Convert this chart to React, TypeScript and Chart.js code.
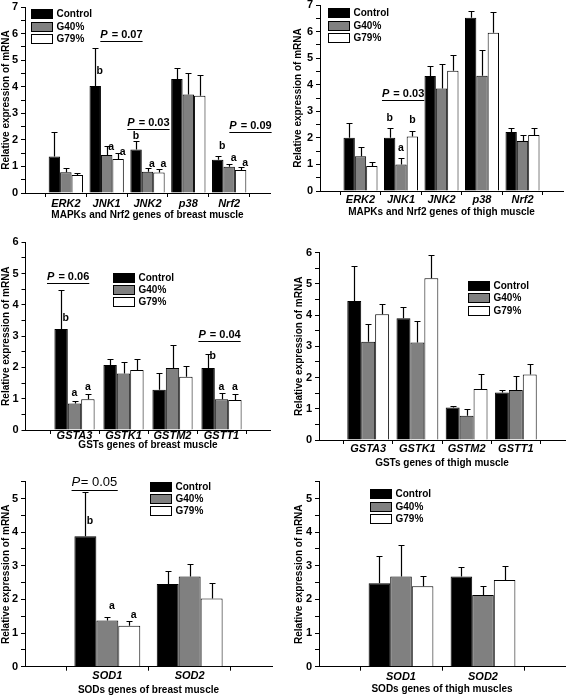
import React, { useEffect, useRef } from 'react';
import { Chart, registerables } from 'chart.js';

Chart.register(...registerables);

const FONT = '"Liberation Sans", Arial, Helvetica, sans-serif';
Chart.defaults.font.family = FONT;
Chart.defaults.color = '#000';

const seriesNames = ['Control', 'G40%', 'G79%'];
const seriesFills = ['#000000', '#808080', '#ffffff'];
const yAxisTitle = 'Relative expression of mRNA';

// ---- Panel 1: MAPKs and Nrf2, breast muscle
const mapkGenes = ['ERK2', 'JNK1', 'JNK2', 'p38', 'Nrf2'];
const breastMapkControl = [1.37, 4.03, 1.64, 4.29, 1.25];
const breastMapkControlSE = [0.94, 1.42, 0.31, 0.43, 0.13];
const breastMapkG40 = [0.78, 1.43, 0.80, 3.71, 0.99];
const breastMapkG40SE = [0.15, 0.35, 0.14, 0.79, 0.09];
const breastMapkG79 = [0.68, 1.28, 0.77, 3.66, 0.87];
const breastMapkG79SE = [0.09, 0.23, 0.13, 0.78, 0.12];
const breastMapkTicks = [0, 1, 2, 3, 4, 5, 6, 7];
// [gene, series, letter, height, placement]
const breastMapkLetters: [string, number, string, number, string][] = [
  ['JNK1', 0, 'b', 4.57, 'r'], ['JNK1', 1, 'a', 1.74, 'r'], ['JNK1', 2, 'a', 1.55, 'r'],
  ['JNK2', 0, 'b', 2.14, 'c'], ['JNK2', 1, 'a', 1.1, 'r'], ['JNK2', 2, 'a', 1.1, 'r'],
  ['Nrf2', 0, 'b', 1.75, 'r'], ['Nrf2', 1, 'a', 1.31, 'r'], ['Nrf2', 2, 'a', 1.12, 'r'],
];
// [p value, category position, height]
const breastMapkP: [string, number, number][] = [
  ['0.07', 2.35, 5.96], ['0.03', 3.01, 2.64], ['0.09', 5.51, 2.53],
];

// ---- Panel 2: MAPKs and Nrf2, thigh muscle
const thighMapkControl = [2.0, 2.0, 4.33, 6.52, 2.22];
const thighMapkControlSE = [0.57, 0.36, 0.39, 0.26, 0.16];
const thighMapkG40 = [1.31, 1.0, 3.86, 4.34, 1.88];
const thighMapkG40SE = [0.35, 0.23, 0.91, 0.97, 0.23];
const thighMapkG79 = [0.94, 2.05, 4.53, 5.96, 2.11];
const thighMapkG79SE = [0.16, 0.21, 0.59, 0.79, 0.27];
const thighMapkTicks = [0, 1, 2, 3, 4, 5, 6, 7];
const thighMapkLetters: [string, number, string, number, string][] = [
  ['JNK1', 0, 'b', 2.74, 'c'], ['JNK1', 1, 'a', 1.61, 'c'], ['JNK1', 2, 'b', 2.67, 'c'],
];
const thighMapkP: [string, number, number][] = [['0.03', 2.04, 3.64]];

// ---- Panel 3: GSTs, breast muscle
const gstGenes = ['GSTA3', 'GSTK1', 'GSTM2', 'GSTT1'];
const breastGstControl = [3.23, 2.08, 1.29, 1.98];
const breastGstControlSE = [1.25, 0.19, 0.54, 0.44];
const breastGstG40 = [0.85, 1.81, 1.98, 0.98];
const breastGstG40SE = [0.08, 0.35, 0.75, 0.19];
const breastGstG79 = [0.98, 1.92, 1.70, 0.96];
const breastGstG79SE = [0.16, 0.35, 0.35, 0.18];
const breastGstTicks = [0, 1, 2, 3, 4, 5, 6];
const breastGstLetters: [string, number, string, number, string][] = [
  ['GSTA3', 0, 'b', 3.57, 'r'], ['GSTA3', 1, 'a', 1.19, 'c'], ['GSTA3', 2, 'a', 1.38, 'c'],
  ['GSTT1', 0, 'b', 2.36, 'r'], ['GSTT1', 1, 'a', 1.38, 'c'], ['GSTT1', 2, 'a', 1.38, 'c'],
];
const breastGstP: [string, number, number][] = [['0.06', 0.86, 4.9], ['0.04', 3.95, 3.03]];

// ---- Panel 4: GSTs, thigh muscle
const thighGstControl = [4.45, 3.9, 1.04, 1.52];
const thighGstControlSE = [1.13, 0.35, 0.06, 0.08];
const thighGstG40 = [3.15, 3.12, 0.78, 1.6];
const thighGstG40SE = [0.55, 0.7, 0.21, 0.45];
const thighGstG79 = [4.03, 5.18, 1.63, 2.1];
const thighGstG79SE = [0.32, 0.74, 0.47, 0.32];
const thighGstTicks = [0, 1, 2, 3, 4, 5, 6];

// ---- Panel 5: SODs, breast muscle
const sodGenes = ['SOD1', 'SOD2'];
const breastSodControl = [3.88, 2.46];
const breastSodControlSE = [1.32, 0.39];
const breastSodG40 = [1.37, 2.68];
const breastSodG40SE = [0.12, 0.38];
const breastSodG79 = [1.22, 2.03];
const breastSodG79SE = [0.15, 0.47];
const breastSodTicks = [0, 1, 2, 3, 4, 5];
const breastSodLetters: [string, number, string, number, string][] = [
  ['SOD1', 0, 'b', 4.33, 'r'], ['SOD1', 1, 'a', 1.79, 'r'], ['SOD1', 2, 'a', 1.54, 'r'],
];
const breastSodP: [string, number, number][] = [['0.05', 0.84, 5.47]];

// ---- Panel 6: SODs, thigh muscle
const thighSodControl = [2.48, 2.68];
const thighSodControlSE = [0.82, 0.27];
const thighSodG40 = [2.68, 2.13];
const thighSodG40SE = [0.95, 0.27];
const thighSodG79 = [2.39, 2.58];
const thighSodG79SE = [0.31, 0.42];
const thighSodTicks = [0, 1, 2, 3, 4, 5];

type PanelCfg = {
  box: { x: number; y: number; w: number; h: number };
  pad: { left: number; top: number; right: number; bottom: number };
  yWidth: number;
  xHeight: number;
  yMax: number;
  majorTicks: number[];
  genes: string[];
  values: number[][];
  se: number[][];
  xTitle: string;
  catPct: number;
  labelPad: number;
  legend: { dx: number; dy: number };
  letters: [string, number, string, number, string][];
  pvals: [string, number, number][];
  pStyle: 'bold' | 'plain';
};

const panels: PanelCfg[] = [
  {
    box: { x: 0, y: 0, w: 283, h: 228 },
    pad: { left: 0, top: 7, right: 13, bottom: 7 },
    yWidth: 25, xHeight: 28, yMax: 7, majorTicks: breastMapkTicks,
    genes: mapkGenes,
    values: [breastMapkControl, breastMapkG40, breastMapkG79],
    se: [breastMapkControlSE, breastMapkG40SE, breastMapkG79SE],
    xTitle: 'MAPKs and Nrf2 genes of breast muscle',
    catPct: 0.84, labelPad: 0.3, legend: { dx: 6, dy: 2.3 },
    letters: breastMapkLetters, pvals: breastMapkP, pStyle: 'bold',
  },
  {
    box: { x: 283, y: 0, w: 284, h: 228 },
    pad: { left: 9.5, top: 5, right: 4, bottom: 10 },
    yWidth: 27.5, xHeight: 27, yMax: 7, majorTicks: thighMapkTicks,
    genes: mapkGenes,
    values: [thighMapkControl, thighMapkG40, thighMapkG79],
    se: [thighMapkControlSE, thighMapkG40SE, thighMapkG79SE],
    xTitle: 'MAPKs and Nrf2 genes of thigh muscle',
    catPct: 0.84, labelPad: -1.7, legend: { dx: 8, dy: 3.3 },
    letters: thighMapkLetters, pvals: thighMapkP, pStyle: 'bold',
  },
  {
    box: { x: 0, y: 228, w: 283, h: 232 },
    pad: { left: 0, top: 14.3, right: 12.5, bottom: 8.7 },
    yWidth: 25.5, xHeight: 21.3, yMax: 6, majorTicks: breastGstTicks,
    genes: gstGenes,
    values: [breastGstControl, breastGstG40, breastGstG79],
    se: [breastGstControlSE, breastGstG40SE, breastGstG79SE],
    xTitle: 'GSTs genes of breast muscle',
    catPct: 0.82, labelPad: -4.8, legend: { dx: 87, dy: 30.4 },
    letters: breastGstLetters, pvals: breastGstP, pStyle: 'bold',
  },
  {
    box: { x: 283, y: 228, w: 284, h: 242 },
    pad: { left: 10, top: 24.7, right: 2, bottom: 1 },
    yWidth: 26, xHeight: 29, yMax: 6, majorTicks: thighGstTicks,
    genes: gstGenes,
    values: [thighGstControl, thighGstG40, thighGstG79],
    se: [thighGstControlSE, thighGstG40SE, thighGstG79SE],
    xTitle: 'GSTs genes of thigh muscle',
    catPct: 0.85, labelPad: -1.7, legend: { dx: 148.7, dy: 28.3 },
    letters: [], pvals: [], pStyle: 'bold',
  },
  {
    box: { x: 0, y: 460, w: 283, h: 236 },
    pad: { left: 0, top: 21.7, right: 11, bottom: 0 },
    yWidth: 25, xHeight: 29.3, yMax: 5.5, majorTicks: breastSodTicks,
    genes: sodGenes,
    values: [breastSodControl, breastSodG40, breastSodG79],
    se: [breastSodControlSE, breastSodG40SE, breastSodG79SE],
    xTitle: 'SODs genes of breast muscle',
    catPct: 0.8, labelPad: -1, legend: { dx: 125, dy: 0 },
    letters: breastSodLetters, pvals: breastSodP, pStyle: 'plain',
  },
  {
    box: { x: 283, y: 470, w: 284, h: 226 },
    pad: { left: 10, top: 11.7, right: 2, bottom: 0.7 },
    yWidth: 26, xHeight: 28.6, yMax: 5.5, majorTicks: thighSodTicks,
    genes: sodGenes,
    values: [thighSodControl, thighSodG40, thighSodG79],
    se: [thighSodControlSE, thighSodG40SE, thighSodG79SE],
    xTitle: 'SODs genes of thigh muscles',
    catPct: 0.79, labelPad: -0.7, legend: { dx: 51, dy: 7.6 },
    letters: [], pvals: [], pStyle: 'bold',
  },
];

function makeDecor(p: PanelCfg) {
  return {
    id: 'decor',
    afterDatasetsDraw(chart: any) {
      const ctx = chart.ctx;
      const ys = chart.scales.y;
      ctx.save();
      ctx.strokeStyle = '#000';
      ctx.lineWidth = 1.2;
      p.values.forEach((vals, si) => {
        const meta = chart.getDatasetMeta(si);
        vals.forEach((v, ci) => {
          const e = p.se[si][ci];
          const bar = meta.data[ci + 1];
          if (!bar) return;
          const x = Math.round(bar.x) + 0.5;
          const y0 = ys.getPixelForValue(v);
          const y1 = Math.round(ys.getPixelForValue(v + e)) + 0.5;
          ctx.beginPath();
          ctx.moveTo(x, y0);
          ctx.lineTo(x, y1);
          ctx.moveTo(x - 3, y1);
          ctx.lineTo(x + 3, y1);
          ctx.stroke();
        });
      });
      ctx.restore();
    },
    afterDraw(chart: any) {
      const ctx = chart.ctx;
      const xs = chart.scales.x;
      const ys = chart.scales.y;
      const a = chart.chartArea;
      ctx.save();
      // legend
      const lx = a.left + p.legend.dx;
      const ly = a.top + p.legend.dy;
      chart.data.datasets.forEach((ds: any, i: number) => {
        const y = Math.round(ly + i * 12.35);
        const x = Math.round(lx);
        ctx.fillStyle = ds.backgroundColor;
        ctx.fillRect(x, y, 22, 10);
        ctx.strokeStyle = '#000';
        ctx.lineWidth = 1;
        ctx.strokeRect(x + 0.5, y + 0.5, 21, 9);
        ctx.fillStyle = '#000';
        ctx.font = `bold 10px ${FONT}`;
        ctx.textAlign = 'left';
        ctx.textBaseline = 'middle';
        ctx.fillText(ds.label, x + 25.5, y + 5.5);
      });
      // significance letters
      ctx.font = `bold 10.5px ${FONT}`;
      ctx.textAlign = 'center';
      ctx.textBaseline = 'middle';
      p.letters.forEach(([gene, si, txt, h, place]) => {
        const ci = p.genes.indexOf(gene);
        const bar = chart.getDatasetMeta(si).data[ci + 1];
        if (!bar) return;
        const x = bar.x + (place === 'r' ? 4.5 : 0);
        ctx.fillText(txt, x, ys.getPixelForValue(h));
      });
      // P values
      p.pvals.forEach(([val, pos, h]) => {
        const x = xs.getPixelForValue(pos);
        const y = ys.getPixelForValue(h);
        const plain = p.pStyle === 'plain';
        const fP = plain ? `italic 13px ${FONT}` : `italic bold 11px ${FONT}`;
        const fR = plain ? `13px ${FONT}` : `bold 11px ${FONT}`;
        const rest = plain ? `= ${val}` : ` = ${val}`;
        ctx.font = fP;
        const wP = ctx.measureText('P').width;
        ctx.font = fR;
        const wR = ctx.measureText(rest).width;
        const w = wP + wR;
        const sx = x - w / 2;
        ctx.textAlign = 'left';
        ctx.textBaseline = 'middle';
        ctx.font = fP;
        ctx.fillText('P', sx, y);
        ctx.font = fR;
        ctx.fillText(rest, sx + wP + (plain ? 0.5 : 1), y);
        ctx.strokeStyle = '#000';
        ctx.lineWidth = 1;
        const uy = Math.round(y + (plain ? 7 : 6)) + 0.5;
        ctx.beginPath();
        ctx.moveTo(sx, uy);
        ctx.lineTo(sx + w + 1, uy);
        ctx.stroke();
      });
      ctx.restore();
    },
  };
}

function buildConfig(p: PanelCfg): any {
  const labels = ['', ...p.genes, ''];
  return {
    type: 'bar',
    data: {
      labels,
      datasets: p.values.map((vals, i) => ({
        label: seriesNames[i],
        data: [null, ...vals, null],
        backgroundColor: seriesFills[i],
        borderColor: '#000',
        borderWidth: 1,
        categoryPercentage: p.catPct,
        barPercentage: 1,
      })),
    },
    options: {
      responsive: false,
      animation: false,
      events: [],
      layout: { padding: p.pad },
      plugins: {
        legend: { display: false },
        tooltip: { enabled: false },
      },
      scales: {
        x: {
          offset: false,
          grid: { offset: true, drawOnChartArea: false, tickLength: 4, color: '#000', lineWidth: 1 },
          border: { display: true, color: '#000', width: 1 },
          ticks: {
            autoSkip: false,
            maxRotation: 0,
            padding: p.labelPad,
            color: '#000',
            font: { family: FONT, size: 11, weight: 'bold', style: 'italic' },
          },
          title: {
            display: true,
            text: p.xTitle,
            color: '#000',
            padding: 0,
            font: { family: FONT, size: 10, weight: 'bold' },
          },
          afterFit: (s: any) => {
            s.height = p.xHeight;
            s.paddingLeft = 0;
            s.paddingRight = 0;
          },
        },
        y: {
          min: 0,
          max: p.yMax,
          grid: { drawOnChartArea: false, tickLength: 4, color: '#000', lineWidth: 1 },
          border: { display: true, color: '#000', width: 1 },
          ticks: {
            stepSize: 0.5,
            autoSkip: false,
            padding: 3,
            color: '#000',
            font: { family: FONT, size: 11, weight: 'bold' },
            callback: (v: number) => (p.majorTicks.includes(v) ? String(v) : ''),
          },
          title: {
            display: true,
            text: yAxisTitle,
            color: '#000',
            padding: 0,
            font: { family: FONT, size: 10, weight: 'bold' },
          },
          afterFit: (s: any) => {
            s.width = p.yWidth;
            s.paddingTop = 0;
            s.paddingBottom = 0;
          },
        },
      },
    },
    plugins: [makeDecor(p)],
  };
}

function Panel({ cfg }: { cfg: PanelCfg }) {
  const ref = useRef<HTMLCanvasElement>(null);
  useEffect(() => {
    if (!ref.current) return;
    const chart = new Chart(ref.current, buildConfig(cfg));
    return () => chart.destroy();
  }, [cfg]);
  return (
    <canvas
      ref={ref}
      width={cfg.box.w}
      height={cfg.box.h}
      style={{ position: 'absolute', left: cfg.box.x, top: cfg.box.y, width: cfg.box.w, height: cfg.box.h }}
    />
  );
}

export default function App() {
  return (
    <div style={{ position: 'absolute', left: 0, top: 0, width: 567, height: 696, background: '#fff', overflow: 'hidden' }}>
      {panels.map((p, i) => (
        <Panel key={i} cfg={p} />
      ))}
    </div>
  );
}
